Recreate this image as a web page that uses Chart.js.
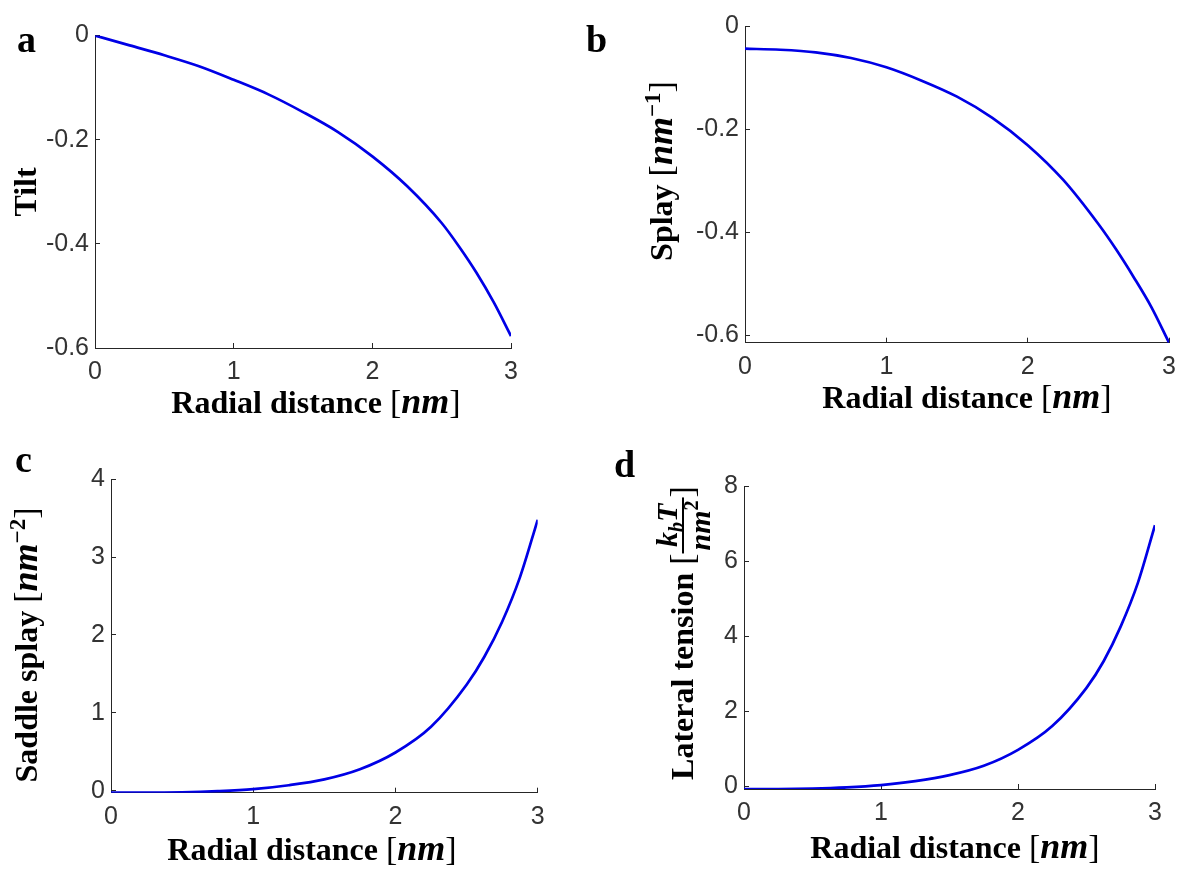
<!DOCTYPE html>
<html>
<head>
<meta charset="utf-8">
<script src="https://cdn.jsdelivr.net/npm/chart.js@4.4.1/dist/chart.umd.min.js"></script>
<style>
html,body{margin:0;padding:0;background:#fff;}
#wrap{position:relative;width:1190px;height:874px;overflow:hidden;}
#wrap canvas{position:absolute;left:0;top:0;}
</style>
</head>
<body>
<div id="wrap">
<canvas id="pa" width="1190" height="874"></canvas>
<canvas id="pb" width="1190" height="874"></canvas>
<canvas id="pc" width="1190" height="874"></canvas>
<canvas id="pd" width="1190" height="874"></canvas>
</div>
<script>
// ---- data ----
const radial   = [0, 0.25, 0.5, 0.75, 1, 1.25, 1.5, 1.75, 2, 2.25, 2.5, 2.625, 2.75, 2.875, 3];
const tilt     = [0, -0.019, -0.038, -0.059, -0.085, -0.113, -0.147, -0.185, -0.232, -0.289, -0.360, -0.405, -0.455, -0.512, -0.577];
const splay    = [-0.044, -0.046, -0.051, -0.062, -0.080, -0.106, -0.137, -0.178, -0.231, -0.298, -0.384, -0.433, -0.487, -0.545, -0.614];
const saddle   = [-0.026, -0.026, -0.021, -0.006, 0.02, 0.07, 0.145, 0.275, 0.49, 0.82, 1.36, 1.72, 2.17, 2.74, 3.48];
const tension  = [-0.07, -0.07, -0.06, -0.027, 0.035, 0.14, 0.30, 0.55, 0.975, 1.61, 2.63, 3.34, 4.27, 5.43, 6.97];

const xTickValues       = [0, 1, 2, 3];
const tiltTickValues    = [-0.6, -0.4, -0.2, 0];
const splayTickValues   = [-0.6, -0.4, -0.2, 0];
const saddleTickValues  = [0, 1, 2, 3, 4];
const tensionTickValues = [0, 2, 4, 6, 8];

// ---- styling ----
const SERIF = '"Liberation Serif", "Times New Roman", serif';
const SANS  = '"Liberation Sans", Arial, Helvetica, sans-serif';
const TB  = 'bold 32px ' + SERIF;
const MI  = 'italic bold 36px ' + SERIF;
const BR  = '34px ' + SERIF;
const SUP = 'bold 23px ' + SERIF;
const FI  = 'italic bold 30px ' + SERIF;
const FS  = 'bold 20px ' + SERIF;
const FSI = 'italic bold 20px ' + SERIF;
const LBL = 'bold 38px ' + SERIF;
const LINE_COLOR = '#0000e6';
const AXIS_COLOR = '#262626';
const TICK_FONT = {family: SANS, size: 25};

const xTitleSegs = [{t:'Radial distance ', font:TB}, {t:'[', font:BR}, {t:'nm', font:MI}, {t:']', font:BR}];

function segW(ctx, s) {
  if (s.frac) {
    return Math.max(rowW(ctx, s.num), rowW(ctx, s.den)) + 6;
  }
  ctx.font = s.font;
  return ctx.measureText(s.t).width;
}
function rowW(ctx, segs) { return segs.reduce((a, s) => a + segW(ctx, s), 0); }
function drawRow(ctx, segs, x, by) {
  for (const s of segs) {
    const w = segW(ctx, s);
    if (s.frac) {
      const barY = by - s.barUp;
      ctx.fillRect(x, barY - 1, w, 2);
      const nw = rowW(ctx, s.num), dw = rowW(ctx, s.den);
      drawRow(ctx, s.num, x + (w - nw) / 2, barY - s.numUp);
      drawRow(ctx, s.den, x + (w - dw) / 2, barY + s.denDown);
    } else {
      ctx.font = s.font;
      ctx.fillText(s.t, x, by + (s.dy || 0));
    }
    x += w;
  }
}
function drawCentered(ctx, segs, cx, by) {
  drawRow(ctx, segs, cx - rowW(ctx, segs) / 2, by);
}

function titlePlugin(p) {
  return {
    id: 'titles_' + p.id,
    afterDraw(chart) {
      const ctx = chart.ctx;
      ctx.save();
      ctx.fillStyle = '#000';
      ctx.textBaseline = 'alphabetic';
      ctx.textAlign = 'left';
      drawCentered(ctx, xTitleSegs, p.xTitle[0], p.xTitle[1]);
      ctx.save();
      ctx.translate(p.yTitle[0], p.yTitle[1]);
      ctx.rotate(-Math.PI / 2);
      drawCentered(ctx, p.ySegs, 0, 0);
      ctx.restore();
      ctx.font = LBL;
      ctx.fillText(p.letter, p.letterPos[0], p.letterPos[1]);
      ctx.restore();
    }
  };
}

const W_Y = 80, H_X = 50;
function makePanel(p) {
  const a = p.area;
  new Chart(document.getElementById(p.id), {
    type: 'line',
    data: {
      datasets: [{
        data: radial.map((x, i) => ({x: x, y: p.values[i]})),
        borderColor: LINE_COLOR,
        borderWidth: 2.7,
        pointRadius: 0,
        fill: false,
        cubicInterpolationMode: 'monotone'
      }]
    },
    options: {
      responsive: false,
      animation: false,
      events: [],
      layout: {padding: {left: a.l - W_Y, top: a.t, right: 1190 - a.r, bottom: 874 - a.b - H_X}},
      plugins: {legend: {display: false}, tooltip: {enabled: false}, title: {display: false}},
      scales: {
        x: {
          type: 'linear', min: 0, max: 3,
          afterBuildTicks: s => { s.ticks = xTickValues.map(v => ({value: v})); },
          afterFit: s => { s.height = H_X; },
          grid: {drawOnChartArea: false, drawTicks: true, tickLength: -5, color: AXIS_COLOR, lineWidth: 1},
          border: {display: true, color: AXIS_COLOR, width: 1},
          ticks: {padding: 14, color: '#333', font: TICK_FONT, maxRotation: 0, autoSkip: false,
                  callback: v => String(v)}
        },
        y: {
          type: 'linear', min: p.yMin, max: p.yMax,
          afterBuildTicks: s => { s.ticks = p.yTicks.map(v => ({value: v})); },
          afterFit: s => { s.width = W_Y; },
          grid: {drawOnChartArea: false, drawTicks: true, tickLength: -5, color: AXIS_COLOR, lineWidth: 1},
          border: {display: true, color: AXIS_COLOR, width: 1},
          ticks: {padding: 11, color: '#333', font: TICK_FONT, autoSkip: false,
                  callback: v => String(v)}
        }
      }
    },
    plugins: [titlePlugin(p)]
  });
}

makePanel({
  id: 'pa', values: tilt, yMin: -0.6, yMax: 0, yTicks: tiltTickValues,
  area: {l: 95, t: 35.5, r: 511, b: 348},
  xTitle: [316, 413], yTitle: [36, 192],
  ySegs: [{t:'Tilt', font:TB}],
  letter: 'a', letterPos: [17, 52]
});
makePanel({
  id: 'pb', values: splay, yMin: -0.614, yMax: 0, yTicks: splayTickValues,
  area: {l: 745, t: 17.3, r: 1172.5, b: 342.7},
  xTitle: [967, 408], yTitle: [672, 171],
  ySegs: [{t:'Splay ', font:TB}, {t:'[', font:BR}, {t:'nm', font:MI}, {t:'\u22121', font:SUP, dy:-12}, {t:']', font:BR}],
  letter: 'b', letterPos: [586, 52]
});
makePanel({
  id: 'pc', values: saddle, yMin: -0.026, yMax: 4, yTicks: saddleTickValues,
  area: {l: 111, t: 479.3, r: 537.7, b: 792.7},
  xTitle: [312, 860], yTitle: [37, 645],
  ySegs: [{t:'Saddle splay ', font:TB}, {t:'[', font:BR}, {t:'nm', font:MI}, {t:'\u22122', font:SUP, dy:-12}, {t:']', font:BR}],
  letter: 'c', letterPos: [15, 472]
});
makePanel({
  id: 'pd', values: tension, yMin: -0.07, yMax: 8, yTicks: tensionTickValues,
  area: {l: 744, t: 486.6, r: 1155, b: 789},
  xTitle: [955, 858], yTitle: [693, 633],
  ySegs: [
    {t:'Lateral tension ', font:TB},
    {t:'[', font:BR},
    {frac:true, barUp:10, numUp:6, denDown:27,
      num:[{t:'k', font:FI}, {t:'b', font:FSI, dy:6}, {t:'T', font:FI}],
      den:[{t:'nm', font:FI}, {t:'2', font:FS, dy:-12}]},
    {t:']', font:BR}
  ],
  letter: 'd', letterPos: [614, 477]
});
</script>
</body>
</html>
